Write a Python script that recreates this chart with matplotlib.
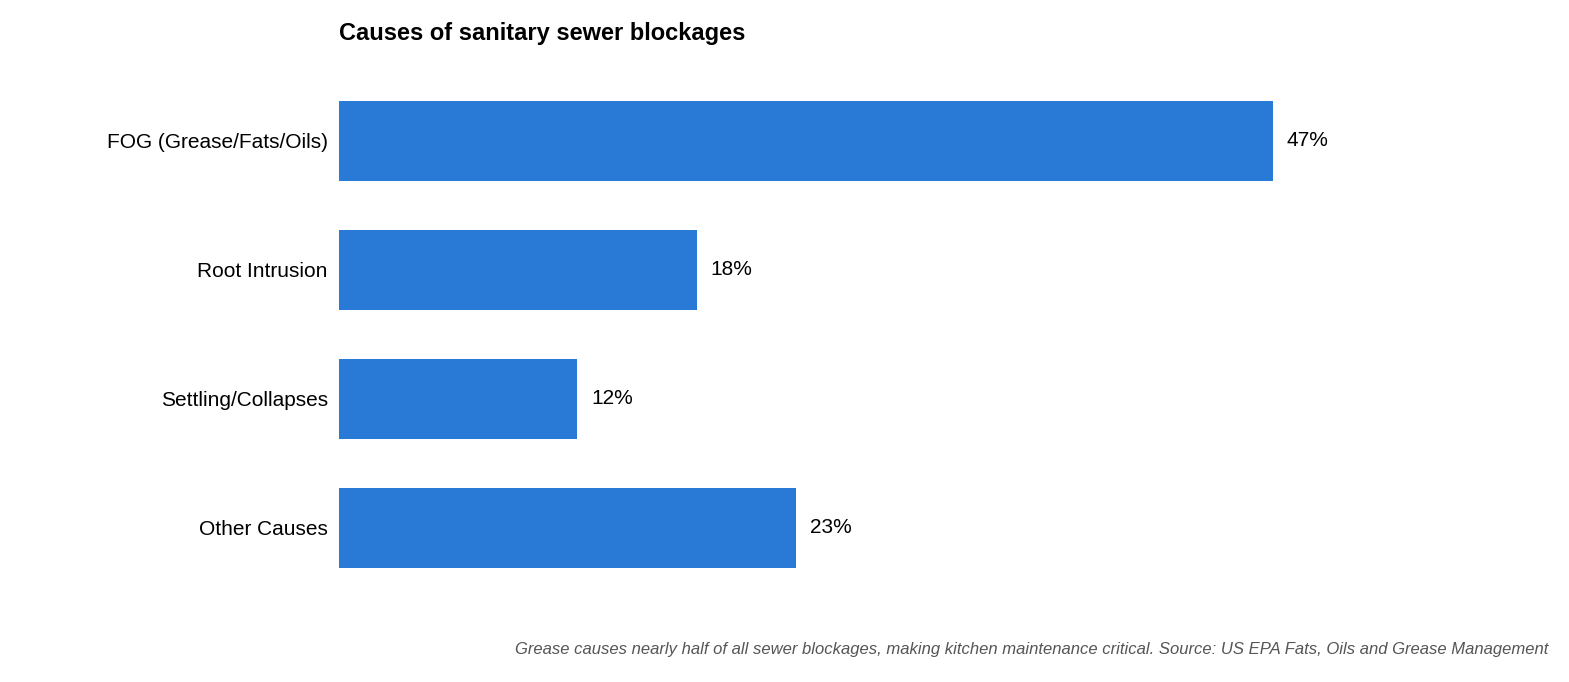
import matplotlib.pyplot as plt

plt.rcParams['font.family'] = ['Liberation Sans', 'DejaVu Sans']

categories = ["FOG (Grease/Fats/Oils)", "Root Intrusion", "Settling/Collapses", "Other Causes"]
values = [47, 18, 12, 23]
labels = ["47%", "18%", "12%", "23%"]

fig = plt.figure(figsize=(15.69, 6.82), dpi=100)
ax = fig.add_axes([0.216, 0.113, 0.774, 0.794])

y = list(range(len(categories)))
ax.barh(y, values, height=0.62, color="#2979d6")
for yi, v, lab in zip(y, values, labels):
    ax.text(v + 0.7, yi, lab, va="center", ha="left", fontsize=15, color="black")

ax.set_yticks(y)
ax.set_yticklabels(categories, fontsize=15)
ax.set_ylim(3.6, -0.6)
ax.set_xlim(0, 61.1)
ax.set_xticks([])
ax.tick_params(axis="y", length=0, pad=8)
for s in ax.spines.values():
    s.set_visible(False)

fig.text(0.216, 0.951, "Causes of sanitary sewer blockages", fontsize=17, fontweight="bold",
         ha="left", va="center")
fig.text(0.987, 0.047, "Grease causes nearly half of all sewer blockages, making kitchen maintenance critical. "
         "Source: US EPA Fats, Oils and Grease Management", fontsize=12, style="italic",
         color="#555555", ha="right", va="center")

fig.savefig("out.png", dpi=100)
